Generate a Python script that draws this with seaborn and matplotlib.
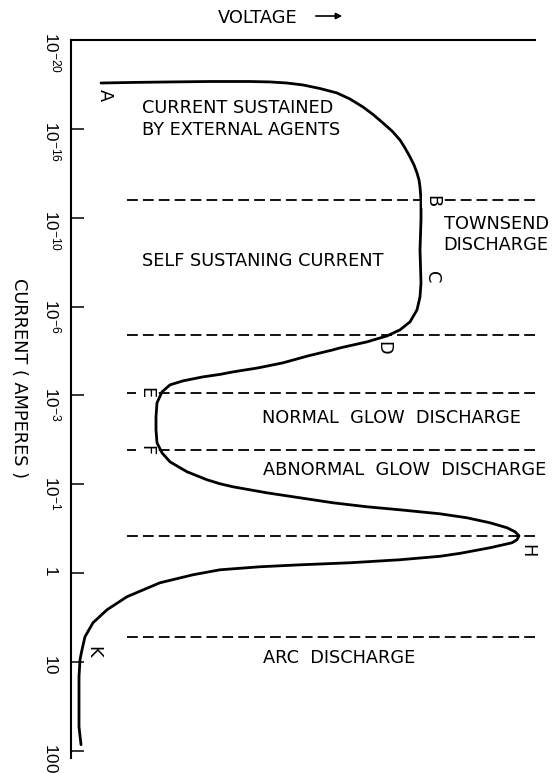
import numpy as np
import pandas as pd
import matplotlib
matplotlib.use("Agg")
import matplotlib.pyplot as plt
import matplotlib.transforms as mtransforms
import matplotlib.patches as mpatches
import seaborn as sns

# ---- data (schematic V-I characteristic of a gas discharge) ----
# voltage in arbitrary units, current as position on the (schematic) current scale
voltage = [30, 59, 99, 139, 179, 199, 216, 232, 249, 266, 279, 292, 302, 312, 321, 329,
           334, 339, 343, 346, 348, 349, 350, 350, 349, 350, 349, 346, 339, 329, 316, 296,
           269, 262, 237, 212, 187, 162, 149, 132, 112, 99, 91, 86, 85, 85, 86, 91, 99,
           116, 136, 149, 162, 196, 229, 262, 296, 329, 369, 396, 419, 436, 444, 448, 446,
           441, 419, 389, 369, 329, 279, 229, 189, 149, 122, 89, 56, 36, 22, 14, 11, 9,
           8, 8, 8, 10]
current = [0.484, 0.478, 0.472, 0.467, 0.467, 0.472, 0.484, 0.506, 0.546, 0.596, 0.664,
           0.754, 0.838, 0.934, 1.024, 1.125, 1.215, 1.316, 1.406, 1.496, 1.575, 1.654,
           1.800, 2.025, 2.362, 2.733, 2.891, 3.037, 3.172, 3.262, 3.330, 3.397, 3.465,
           3.487, 3.555, 3.633, 3.690, 3.735, 3.763, 3.791, 3.836, 3.881, 3.960, 4.083,
           4.241, 4.387, 4.533, 4.646, 4.747, 4.859, 4.949, 4.994, 5.028, 5.096, 5.152,
           5.208, 5.253, 5.287, 5.332, 5.377, 5.433, 5.489, 5.534, 5.579, 5.624, 5.658,
           5.714, 5.777, 5.810, 5.849, 5.883, 5.906, 5.928, 5.962, 6.018, 6.108, 6.265,
           6.412, 6.558, 6.715, 6.862, 6.974, 7.165, 7.424, 7.728, 7.930]

tick_pos = [0, 1, 2, 3, 4, 5, 6, 7, 8]
tick_labels = [r"$10^{-20}$", r"$10^{-16}$", r"$10^{-10}$", r"$10^{-6}$", r"$10^{-3}$",
               r"$10^{-1}$", r"$1$", r"$10$", r"$100$"]

boundary_levels = [1.80, 3.32, 3.97, 4.61, 5.58, 6.715]

region_texts = ["CURRENT SUSTAINED\nBY EXTERNAL AGENTS", "TOWNSEND\nDISCHARGE",
                "SELF SUSTANING CURRENT", "NORMAL  GLOW  DISCHARGE",
                "ABNORMAL  GLOW  DISCHARGE", "ARC  DISCHARGE"]
region_x = [71, 425, 71, 191, 192, 192]
region_y = [0.889, 2.19, 2.486, 4.25, 4.837, 6.95]
region_ha = ["left", "center", "left", "left", "left", "left"]

point_names = ["A", "B", "C", "D", "E", "F", "H", "K"]
point_x = [34, 361, 361, 312, 75, 75, 456, 22]
point_y = [0.62, 1.81, 2.666, 3.465, 3.97, 4.61, 5.75, 6.88]

df = pd.DataFrame({"voltage": voltage, "current": current})

# ---- figure ----
sns.set_style("white")
plt.rcParams["font.family"] = ["DejaVu Sans"]
plt.rcParams["mathtext.fontset"] = "custom"
plt.rcParams["mathtext.rm"] = "Liberation Sans"
plt.rcParams["mathtext.it"] = "Liberation Sans"
plt.rcParams["mathtext.bf"] = "Liberation Sans:bold"

W, H = 556, 773
fig = plt.figure(figsize=(W / 100, H / 100), dpi=100)
ax_l, ax_r, ax_t, ax_b = 71, 535, 40, 758
ax = fig.add_axes([ax_l / W, 1 - ax_b / H, (ax_r - ax_l) / W, (ax_b - ax_t) / H])

sns.lineplot(data=df, x="voltage", y="current", sort=False, estimator=None,
             color="black", lw=2.0, ax=ax)
for ln in ax.get_lines():
    ln.set_solid_joinstyle("round")
    ln.set_solid_capstyle("round")

ax.hlines(boundary_levels, 56, 464, colors="black", lw=1.3,
          linestyles=[(0, (6.0, 2.8))], zorder=1)

ax.set_xlim(0, 464)
ax.set_ylim(8.08, 0)
ax.set_xlabel("")
ax.set_ylabel("")
ax.set_xticks([])
ax.set_yticks(tick_pos)
ax.set_yticklabels([""] * len(tick_pos))
ax.tick_params(axis="y", direction="in", length=9.4, width=1.1, color="black", left=True)

for s in ["right", "bottom"]:
    ax.spines[s].set_visible(False)
for s in ["top", "left"]:
    ax.spines[s].set_linewidth(1.5)
    ax.spines[s].set_color("black")

fs = 12.8
# tick labels (rotated, read top to bottom)
lab_tr = mtransforms.offset_copy(ax.get_yaxis_transform(), fig=fig, x=0, y=8, units="dots")
for p, lab in zip(tick_pos, tick_labels):
    ax.text(-0.0625, p, lab, transform=lab_tr, rotation=-90, ha="left", va="top",
            fontsize=12.3, color="black", clip_on=False)

# region labels
for t, x, y, ha in zip(region_texts, region_x, region_y, region_ha):
    ax.text(x, y, t, ha=ha, va="center", fontsize=fs, color="black",
            linespacing=1.25, multialignment="center" if ha == "center" else "left",
            clip_on=False)

# point letters (rotated)
for n, x, y in zip(point_names, point_x, point_y):
    bb = dict(facecolor="white", edgecolor="none", pad=0.6) if n in ("B", "E", "F") else None
    ax.text(x, y, n, rotation=-90, ha="center", va="center", fontsize=fs,
            color="black", bbox=bb, clip_on=False, zorder=5)

# axis titles
fig.text(19 / W, 1 - 378 / H, "CURRENT ( AMPERES )", rotation=-90, ha="center",
         va="center", fontsize=fs, color="black")
fig.text(218 / W, 1 - 18 / H, "VOLTAGE", ha="left", va="center", fontsize=fs,
         color="black")
fig.add_artist(mpatches.FancyArrowPatch(
    (313 / W, 1 - 16 / H), (345 / W, 1 - 16 / H), transform=fig.transFigure,
    arrowstyle="-|>", mutation_scale=9, lw=1.2, color="black"))

fig.savefig("out.png", dpi=100, facecolor="white")
